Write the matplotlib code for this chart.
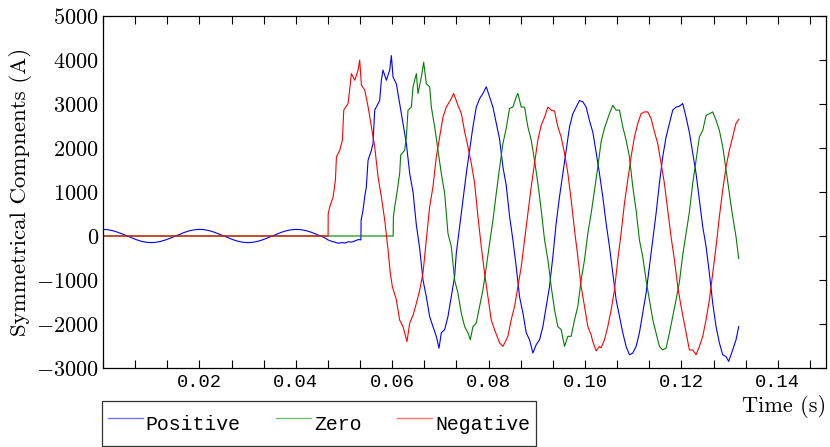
import numpy as np
import matplotlib
matplotlib.use("Agg")
import matplotlib.pyplot as plt
from matplotlib.ticker import MultipleLocator
from matplotlib.lines import Line2D

plt.rcParams["mathtext.fontset"] = "cm"

# symmetrical components of the fault current, (time s, current A)
positive = [
    (0.000, 150), (0.001, 143), (0.002, 121), (0.003, 88), (0.004, 46), (0.005, 1),
    (0.006, -45), (0.007, -87), (0.008, -121), (0.009, -143), (0.010, -150), (0.011, -143),
    (0.012, -122), (0.013, -89), (0.014, -47), (0.015, -2), (0.016, 44), (0.017, 86),
    (0.018, 120), (0.019, 142), (0.020, 150), (0.021, 144), (0.022, 123), (0.023, 90),
    (0.024, 48), (0.025, 3), (0.026, -43), (0.027, -85), (0.028, -119), (0.029, -142),
    (0.030, -150), (0.031, -144), (0.032, -124), (0.033, -91), (0.034, -50), (0.035, -5),
    (0.036, 41), (0.037, 84), (0.038, 118), (0.039, 141), (0.040, 150), (0.041, 145),
    (0.042, 125), (0.043, 93), (0.044, 52), (0.045, 6), (0.046, -40),
    (0.0467, -90), (0.0474, -120), (0.0481, -140), (0.0488, -165), (0.0495, -150),
    (0.0502, -160), (0.0509, -130), (0.0516, -140), (0.0523, -110), (0.0530, -80),
    (0.0535, -90), (0.05355, 360), (0.05395, 590), (0.0543, 890), (0.05464, 1120),
    (0.05499, 1720), (0.05568, 1950), (0.05602, 2100), (0.05637, 2860), (0.05706, 3010),
    (0.0574, 3080), (0.05775, 3540), (0.05809, 3770), (0.05879, 3540), (0.05948, 3770),
    (0.05983, 4100), (0.06017, 3610), (0.06086, 3460), (0.06155, 3010), (0.06225, 2560),
    (0.06294, 2100), (0.06363, 1420), (0.06432, 1000), (0.06501, 250), (0.0657, -280),
    (0.06639, -1000), (0.06708, -1380), (0.06777, -1830), (0.06846, -2060), (0.06915, -2280),
    (0.06971, -2550), (0.07019, -2200), (0.07088, -2130), (0.07157, -1830), (0.07226, -1380),
    (0.07295, -920), (0.0733, -390), (0.07399, 210), (0.07468, 820), (0.07537, 1420),
    (0.07606, 1950), (0.07675, 2480), (0.07744, 2930), (0.07813, 3120), (0.07882, 3240),
    (0.07952, 3390), (0.08021, 3160), (0.0809, 2930), (0.08159, 2560), (0.08228, 2200),
    (0.08297, 1570), (0.08366, 1150), (0.08435, 450), (0.08504, -90), (0.08573, -700),
    (0.08642, -1380), (0.08712, -1750), (0.08781, -2200), (0.0885, -2360), (0.08919, -2660),
    (0.08988, -2470), (0.09057, -2360), (0.09126, -2060), (0.09195, -1600), (0.09264, -1150),
    (0.09333, -470), (0.09402, 290), (0.09471, 890), (0.09541, 1420), (0.0961, 1950),
    (0.09679, 2480), (0.09748, 2780), (0.09817, 2930), (0.09886, 3080), (0.09955, 3050),
    (0.10024, 2930), (0.10093, 2620), (0.10162, 2360), (0.10231, 1900), (0.103, 1420),
    (0.10369, 890), (0.10438, 290), (0.10507, -240), (0.10577, -850), (0.10646, -1450),
    (0.10715, -1830), (0.10784, -2200), (0.10853, -2510), (0.10922, -2700), (0.10991, -2660),
    (0.1106, -2510), (0.11129, -2200), (0.11198, -1750), (0.11267, -1300), (0.11336, -700),
    (0.11406, -90), (0.11475, 515), (0.11544, 1200), (0.11613, 1800), (0.11682, 2250),
    (0.11751, 2560), (0.1182, 2860), (0.11889, 2930), (0.11958, 2950), (0.12028, 3010),
    (0.12097, 2700), (0.12166, 2350), (0.12235, 1880), (0.12304, 1420), (0.12373, 820),
    (0.12443, 210), (0.12512, -240), (0.12581, -850), (0.1265, -1530), (0.12719, -2060),
    (0.12788, -2430), (0.12857, -2700), (0.12926, -2740), (0.12981, -2850), (0.13064, -2590),
    (0.13133, -2360), (0.13189, -2060),
]

zero = [
    (0.0, 0), (0.0602, 0), (0.06025, 440), (0.06052, 665), (0.06086, 890), (0.06155, 1420),
    (0.06176, 1840), (0.06259, 1950), (0.06294, 2250), (0.06328, 2860), (0.06397, 2930),
    (0.06432, 3390), (0.06501, 3690), (0.06535, 3240), (0.06605, 3610), (0.06653, 3950),
    (0.06708, 3460), (0.06777, 3390), (0.06812, 2930), (0.06881, 2480), (0.0695, 1950),
    (0.07019, 1420), (0.07088, 970), (0.07157, 60), (0.07226, -240), (0.07295, -1000),
    (0.07364, -1300), (0.07433, -1750), (0.07503, -2060), (0.07572, -2200), (0.0762, -2360),
    (0.07675, -2060), (0.07744, -1980), (0.07813, -1600), (0.07882, -1230), (0.07952, -700),
    (0.08021, -165), (0.0809, 360), (0.08159, 970), (0.08228, 1550), (0.08297, 2100),
    (0.08366, 2450), (0.08435, 2900), (0.08504, 2930), (0.08573, 3160), (0.08608, 3240),
    (0.08677, 2930), (0.08746, 2930), (0.08815, 2480), (0.08884, 2180), (0.08953, 1720),
    (0.09022, 1200), (0.09092, 590), (0.09161, -90), (0.0923, -540), (0.09299, -1150),
    (0.09368, -1680), (0.09437, -2060), (0.09506, -2130), (0.09575, -2510), (0.09644, -2280),
    (0.09713, -2280), (0.09782, -1910), (0.09851, -1600), (0.0992, -1000), (0.0999, -540),
    (0.10059, 60), (0.10128, 515), (0.10197, 1040), (0.10266, 1570), (0.10335, 2150),
    (0.10404, 2450), (0.10507, 2780), (0.10577, 2970), (0.10646, 2860), (0.10715, 2860),
    (0.10784, 2480), (0.10853, 2180), (0.10922, 1800), (0.10991, 1120), (0.1106, 590),
    (0.11129, -90), (0.11198, -470), (0.11267, -1000), (0.11336, -1450), (0.11406, -1900),
    (0.11475, -2210), (0.11544, -2510), (0.11613, -2590), (0.11682, -2550), (0.11751, -2210),
    (0.1182, -1830), (0.11889, -1450), (0.11958, -1050), (0.12028, -430), (0.12097, 60),
    (0.12166, 550), (0.12235, 1200), (0.12304, 1720), (0.12373, 2250), (0.12443, 2400),
    (0.12512, 2740), (0.12581, 2780), (0.1265, 2820), (0.12719, 2630), (0.12788, 2400),
    (0.12857, 2030), (0.12926, 1500), (0.12995, 970), (0.13064, 440), (0.13133, -15),
    (0.13189, -510),
]

negative = [
    (0.0, 0), (0.0467, 0), (0.04672, 500), (0.04705, 665), (0.04774, 890), (0.04822, 1270),
    (0.04843, 1800), (0.04912, 1950), (0.04967, 2180), (0.04995, 2860), (0.05085, 3010),
    (0.05154, 3690), (0.05223, 3540), (0.05292, 3770), (0.05326, 4000), (0.05361, 3430),
    (0.0543, 3320), (0.05499, 2940), (0.05568, 2480), (0.05637, 2030), (0.05706, 1350),
    (0.05775, 890), (0.05845, 360), (0.05914, -320), (0.05962, -850), (0.06003, -1150),
    (0.06086, -1450), (0.06155, -1910), (0.06225, -2060), (0.06307, -2400), (0.06363, -1980),
    (0.06432, -1800), (0.06501, -1530), (0.0657, -1230), (0.06639, -840), (0.06708, -90),
    (0.06777, 665), (0.06846, 1120), (0.06915, 1800), (0.06984, 2250), (0.07053, 2700),
    (0.07123, 2930), (0.07226, 3120), (0.07275, 3240), (0.07364, 2970), (0.07433, 2790),
    (0.07503, 2370), (0.07572, 2030), (0.07641, 1650), (0.0771, 1200), (0.07779, 440),
    (0.07848, -240), (0.07917, -850), (0.07986, -1380), (0.08055, -1910), (0.08124, -2130),
    (0.08228, -2430), (0.08297, -2510), (0.08366, -2360), (0.084, -2280), (0.0847, -1900),
    (0.08539, -1600), (0.08608, -1150), (0.08677, -700), (0.08746, -90), (0.08815, 515),
    (0.08884, 1120), (0.08953, 1650), (0.09022, 2180), (0.09092, 2520), (0.09161, 2700),
    (0.0923, 2930), (0.09299, 2860), (0.09368, 2840), (0.09437, 2480), (0.09506, 2250),
    (0.09575, 1880), (0.09644, 1430), (0.09713, 820), (0.09782, 140), (0.09851, -470),
    (0.0992, -1150), (0.0999, -1600), (0.10059, -2060), (0.10128, -2250), (0.10162, -2400),
    (0.10231, -2610), (0.103, -2510), (0.10335, -2540), (0.10404, -2360), (0.10473, -2060),
    (0.10542, -1680), (0.10611, -1230), (0.1068, -540), (0.10749, 60), (0.10818, 740),
    (0.10887, 1270), (0.10956, 1800), (0.11026, 2250), (0.11095, 2560), (0.11164, 2780),
    (0.11233, 2820), (0.11302, 2820), (0.11371, 2670), (0.1144, 2370), (0.11509, 2100),
    (0.11578, 1650), (0.11647, 1200), (0.11716, 590), (0.11785, -15), (0.11855, -540),
    (0.11924, -1150), (0.11993, -1600), (0.12062, -2000), (0.12097, -2200), (0.12166, -2590),
    (0.12235, -2590), (0.12304, -2700), (0.12373, -2510), (0.12443, -2280), (0.12512, -1900),
    (0.12581, -1450), (0.1265, -850), (0.12719, -240), (0.12788, 440), (0.12857, 1040),
    (0.12926, 1570), (0.12995, 1950), (0.13064, 2250), (0.13133, 2560), (0.13189, 2650),
]

series_names = ["Positive", "Zero", "Negative"]
series_colors = ["#0000ff", "#008000", "#ff0000"]

x_ticks = [0.02, 0.04, 0.06, 0.08, 0.10, 0.12, 0.14]
x_tick_labels = ["0.02", "0.04", "0.06", "0.08", "0.10", "0.12", "0.14"]
y_ticks = [-3000, -2000, -1000, 0, 1000, 2000, 3000, 4000, 5000]
y_tick_labels = [r"$-3000$", r"$-2000$", r"$-1000$", r"$0$", r"$1000$",
                 r"$2000$", r"$3000$", r"$4000$", r"$5000$"]

fig = plt.figure(figsize=(8.3, 4.47), dpi=100)
ax = fig.add_axes([103 / 830, 1 - 368 / 447, 723 / 830, 352 / 447])

for data, name, col in zip([positive, zero, negative], series_names, series_colors):
    t, v = np.array(data).T
    ax.plot(t, v, color=col, lw=0.8, label=name)

ax.set_xlim(0, 0.15)
ax.set_ylim(-3000, 5000)

ax.set_xticks(x_ticks)
ax.set_xticklabels(x_tick_labels, family="Liberation Mono", fontsize=13.5)
ax.xaxis.set_minor_locator(MultipleLocator(0.02 / 3))
ax.tick_params(axis="x", which="both", direction="in", top=True, bottom=True,
               length=6, width=0.8, pad=4)

ax.set_yticks(y_ticks)
ax.set_yticklabels(y_tick_labels, fontsize=16)
ax.tick_params(axis="y", which="major", direction="in", left=False, right=True,
               labelleft=True, length=5, width=0.8, pad=3)

for sp in ax.spines.values():
    sp.set_linewidth(0.9)

ax.set_ylabel("Symmetrical Compnents (A)", family="cmr10", fontsize=16.5, labelpad=3)
ax.text(1.0, -0.078, "Time (s)", transform=ax.transAxes, ha="right", va="top",
        family="cmr10", fontsize=16)

handles = [Line2D([], [], color=c, lw=1.0, alpha=0.55) for c in series_colors]
leg = fig.legend(handles, series_names, loc="lower left",
                 bbox_to_anchor=(102 / 830, 1 / 447), ncol=3,
                 prop={"family": "Liberation Mono", "size": 14.3},
                 frameon=True, fancybox=False, borderaxespad=0, borderpad=0.3,
                 handlelength=1.75, handleheight=2.2, handletextpad=0.15,
                 columnspacing=1.8)
leg.get_frame().set_edgecolor("black")
leg.get_frame().set_linewidth(0.9)

fig.savefig("out.png", dpi=100)
